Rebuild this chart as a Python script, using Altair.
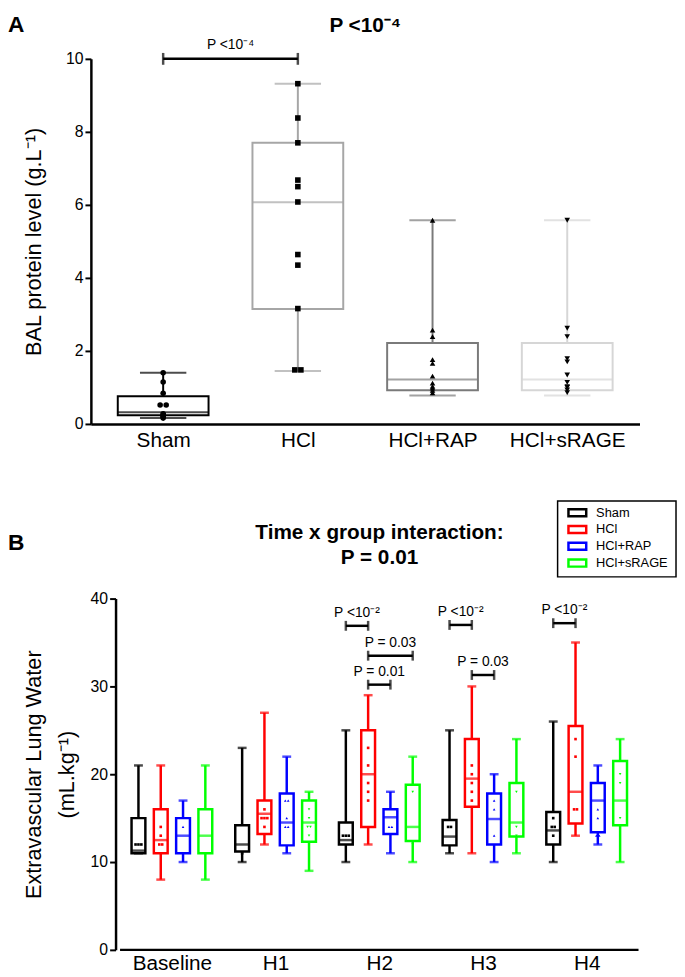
import altair as alt
import pandas as pd

FONT = "Liberation Sans"

# ---------------- Panel A data ----------------
a_groups = ["Sham", "HCl", "HCl+RAP", "HCl+sRAGE"]
a_min = [0.16, 1.45, 0.78, 0.78]
a_q1 = [0.24, 3.15, 0.92, 0.92]
a_med = [0.32, 6.07, 1.22, 1.22]
a_q3 = [0.76, 7.70, 2.22, 2.22]
a_max = [1.40, 9.32, 5.58, 5.58]
a_colors = ["#000000", "#a6a6a6", "#7a7a7a", "#d6d6d6"]
a_shapes = ["circle", "square", "triangle-up", "triangle-down"]
a_pts_sham = [1.40, 1.15, 0.84, 0.52, 0.52, 0.28, 0.25, 0.22, 0.20, 0.16]
a_pts_hcl = [9.32, 8.38, 7.70, 6.68, 6.50, 6.08, 4.64, 4.35, 3.16, 1.48, 1.48]
a_pts_rap = [5.58, 2.57, 2.39, 1.76, 1.66, 1.31, 1.12, 1.03, 0.98, 0.92, 0.85]
a_pts_srage = [5.58, 2.62, 2.39, 1.79, 1.70, 1.34, 1.14, 1.02, 1.00, 0.93, 0.86]
a_br_from = ["Sham"]
a_br_to = ["HCl"]
a_br_y = [10.0]
a_br_label = ["P <10⁻⁴"]
a_title = "P <10⁻⁴"
a_ytitle = "BAL protein level (g.L⁻¹)"

# ---------------- Panel B data ----------------
b_times = ["Baseline", "H1", "H2", "H3", "H4"]
b_series = ["Sham", "HCl", "HCl+RAP", "HCl+sRAGE"]
b_colors = ["#000000", "#ff0000", "#0000ff", "#00ff00"]
b_shapes = ["square", "square", "triangle-up", "triangle-down"]

b_min_sham = [11, 10, 10, 11, 10]
b_q1_sham = [11, 11.2, 12, 11.9, 12]
b_med_sham = [11.3, 12, 12.5, 12.9, 13.6]
b_q3_sham = [15, 14.2, 14.5, 14.8, 15.7]
b_max_sham = [21, 23, 25, 25, 26]

b_min_hcl = [8, 12, 12, 11, 13]
b_q1_hcl = [11, 13.2, 14, 16.3, 14.4]
b_med_hcl = [12.5, 15.5, 20, 19.5, 18]
b_q3_hcl = [16, 17, 25, 24, 25.5]
b_max_hcl = [21, 27, 29, 30, 35]

b_min_rap = [10, 11, 11, 10, 12]
b_q1_rap = [11, 11.9, 13.2, 12, 13.4]
b_med_rap = [13, 14.5, 15.1, 14.9, 17]
b_q3_rap = [15, 17.8, 16, 17.8, 19]
b_max_rap = [17, 22, 18, 20, 21]

b_min_srage = [8, 9, 10, 11, 10]
b_q1_srage = [11, 12.3, 12.4, 12.9, 14.2]
b_med_srage = [13, 14.5, 14, 14.5, 17]
b_q3_srage = [16, 17, 18.8, 19, 21.5]
b_max_srage = [21, 18, 22, 24, 24]

b_pts_sham = [[12, 12, 12], [11], [13, 13, 13], [14, 14], [15, 14, 14, 13]]
b_pts_hcl = [[14, 13, 12, 12], [16, 15, 15, 15, 14], [23, 21, 19, 18, 17], [21, 20, 19, 18, 17], [24, 22, 16, 16]]
b_pts_rap = [[14], [17, 17, 15, 14, 14], [14, 14], [17, 16, 13], [16, 15, 13, 13]]
b_pts_srage = [[], [16, 15, 14, 14, 13], [18, 12], [18, 14, 13], [20, 19, 15]]

b_br_time = ["H2", "H2", "H2", "H3", "H3", "H4"]
b_br_from = ["Sham", "HCl", "HCl", "Sham", "HCl", "Sham"]
b_br_to = ["HCl", "HCl+sRAGE", "HCl+RAP", "HCl", "HCl+RAP", "HCl"]
b_br_y = [36.9, 33.5, 30.2, 37.0, 31.3, 37.2]
b_br_label = ["P <10⁻²", "P = 0.03", "P = 0.01", "P <10⁻²", "P = 0.03", "P <10⁻²"]
b_title = ["Time x group interaction:", "P = 0.01"]
b_ytitle = ["Extravascular Lung Water", "(mL.kg⁻¹)"]

# ---------------- tables ----------------
a_box = pd.DataFrame({"group": a_groups, "idx": list(range(len(a_groups))),
                      "lo": a_min, "q1": a_q1, "med": a_med, "q3": a_q3, "hi": a_max})
a_pts_rows = []
for g, vals in zip(a_groups, [a_pts_sham, a_pts_hcl, a_pts_rap, a_pts_srage]):
    for v in vals:
        a_pts_rows.append({"group": g, "idx": a_groups.index(g), "val": v})
a_pts = pd.DataFrame(a_pts_rows)
a_br = pd.DataFrame({"x1": [a_groups.index(g) for g in a_br_from],
                     "x2": [a_groups.index(g) for g in a_br_to],
                     "yv": a_br_y, "label": a_br_label})

b_stats = {
    "Sham": (b_min_sham, b_q1_sham, b_med_sham, b_q3_sham, b_max_sham),
    "HCl": (b_min_hcl, b_q1_hcl, b_med_hcl, b_q3_hcl, b_max_hcl),
    "HCl+RAP": (b_min_rap, b_q1_rap, b_med_rap, b_q3_rap, b_max_rap),
    "HCl+sRAGE": (b_min_srage, b_q1_srage, b_med_srage, b_q3_srage, b_max_srage),
}
b_box_rows = []
for s in b_series:
    lo, q1, med, q3, hi = b_stats[s]
    for ti, t in enumerate(b_times):
        b_box_rows.append({"series": s, "si": b_series.index(s), "ti": ti,
                           "lo": lo[ti], "q1": q1[ti], "med": med[ti], "q3": q3[ti], "hi": hi[ti]})
b_box = pd.DataFrame(b_box_rows)
b_pts_rows = []
for s, per_t in zip(b_series, [b_pts_sham, b_pts_hcl, b_pts_rap, b_pts_srage]):
    for ti, vals in enumerate(per_t):
        for v in vals:
            b_pts_rows.append({"series": s, "si": b_series.index(s), "ti": ti, "val": v})
b_pts = pd.DataFrame(b_pts_rows)
b_br = pd.DataFrame({"ti": [b_times.index(t) for t in b_br_time],
                     "s1": [b_series.index(s) for s in b_br_from],
                     "s2": [b_series.index(s) for s in b_br_to],
                     "yv": b_br_y, "label": b_br_label})
b_leg = pd.DataFrame({"series": b_series, "row": list(range(len(b_series)))})

# ---------------- Panel A ----------------
A_W, A_H = 556, 370
a_xscale = alt.Scale(domain=[-0.5, 3.5], nice=False, zero=False)
a_yscale = alt.Scale(domain=[0, 10], nice=False)
a_label_expr = "[" + ",".join("'%s'" % g for g in a_groups) + "][datum.value]"
a_xaxis = alt.Axis(values=list(range(len(a_groups))), labelExpr=a_label_expr, title=None,
                   ticks=False, labelFontSize=21, labelPadding=6, domainWidth=2.5,
                   labelFont=FONT, labelColor="black", domainColor="black", grid=False)
a_yaxis = alt.Axis(values=[0, 2, 4, 6, 8, 10], title=a_ytitle, titleFontSize=22,
                   titleFontWeight="normal", titlePadding=20, tickSize=6, tickWidth=2,
                   domainWidth=2.5, labelFontSize=16, labelPadding=2, grid=False,
                   labelFont=FONT, titleFont=FONT, labelColor="black", titleColor="black",
                   domainColor="black", tickColor="black")


def ax(field):
    return alt.X(field, type="quantitative", scale=a_xscale, axis=a_xaxis)


def ay(field):
    return alt.Y(field, type="quantitative", scale=a_yscale, axis=a_yaxis)


a_stroke = alt.Stroke("group:N", scale=alt.Scale(domain=a_groups, range=a_colors), legend=None)
a_color = alt.Color("group:N", scale=alt.Scale(domain=a_groups, range=a_colors), legend=None)

a_base = alt.Chart(a_box)
a_whisk = a_base.mark_rule(strokeWidth=2).encode(x=ax("idx"), y=ay("lo"), y2="hi", stroke=a_stroke)
a_boxes = a_base.mark_bar(size=92, fill="white", strokeWidth=2, orient="vertical").encode(
    x=ax("idx"), y=ay("q1"), y2="q3", stroke=a_stroke)
a_medt = a_base.mark_tick(orient="horizontal", size=92, thickness=2).encode(
    x=ax("idx"), y=ay("med"), color=a_color)
a_cap_lo = a_base.mark_tick(orient="horizontal", size=47, thickness=2).encode(
    x=ax("idx"), y=ay("lo"), color=a_color)
a_cap_hi = a_base.mark_tick(orient="horizontal", size=47, thickness=2).encode(
    x=ax("idx"), y=ay("hi"), color=a_color)
a_points = alt.Chart(a_pts).transform_window(
    rank="row_number()", groupby=["idx", "val"]
).transform_joinaggregate(
    n="count()", groupby=["idx", "val"]
).transform_calculate(
    xj="datum.idx + (datum.rank - (datum.n + 1) / 2) * 0.045"
).mark_point(filled=True, size=32, color="black", opacity=1).encode(
    x=ax("xj"), y=ay("val"),
    shape=alt.Shape("group:N", scale=alt.Scale(domain=a_groups, range=a_shapes), legend=None))

a_brc = alt.Chart(a_br).transform_calculate(xm="(datum.x1 + datum.x2) / 2")
a_br_rule = a_brc.mark_rule(strokeWidth=2.5, color="black").encode(x=ax("x1"), x2="x2", y=ay("yv"))
a_br_t1 = a_brc.mark_tick(orient="vertical", size=12, thickness=2.5, color="black").encode(
    x=ax("x1"), y=ay("yv"))
a_br_t2 = a_brc.mark_tick(orient="vertical", size=12, thickness=2.5, color="black").encode(
    x=ax("x2"), y=ay("yv"))
a_br_txt = a_brc.mark_text(fontSize=14, font=FONT, dy=-10, baseline="alphabetic", color="black").encode(
    x=ax("xm"), y=ay("yv"), text="label:N")

a_annot = alt.Chart(pd.DataFrame({"t": [a_title]})).mark_text(
    fontSize=21, fontWeight="bold", font=FONT, baseline="top", color="black"
).encode(x=alt.value(A_W / 2), y=alt.value(-44), text="t:N")
a_letter = alt.Chart(pd.DataFrame({"t": ["A"]})).mark_text(
    fontSize=23, fontWeight="bold", font=FONT, align="left", baseline="top", color="black"
).encode(x=alt.value(-84), y=alt.value(-45), text="t:N")

chartA = alt.layer(a_whisk, a_boxes, a_medt, a_cap_lo, a_cap_hi, a_points,
                   a_br_rule, a_br_t1, a_br_t2, a_br_txt, a_annot, a_letter).properties(
    width=A_W, height=A_H)

# ---------------- Panel B ----------------
SHIFT = 25                      # panel B's axis sits 25 px right of panel A's
B_PLOT_W, B_H = 535, 356
B_W = B_PLOT_W + SHIFT
STEP = 0.215
b_xmin = -5.0 * SHIFT / B_PLOT_W
b_xscale = alt.Scale(domain=[b_xmin, 5], nice=False, zero=False)
b_yscale = alt.Scale(domain=[0, 40], nice=False)
b_label_expr = "[" + ",".join("'%s'" % t for t in b_times) + "][floor(datum.value)]"
b_xaxis = alt.Axis(values=[i + 0.5 for i in range(len(b_times))], labelExpr=b_label_expr, title=None,
                   ticks=False, labelFontSize=21, labelPadding=3, domain=False,
                   labelFont=FONT, labelColor="black", grid=False)
b_yaxis = alt.Axis(values=[0, 10, 20, 30, 40], title=b_ytitle, titleFontSize=22,
                   titleFontWeight="normal", titlePadding=12, titleLineHeight=33,
                   tickSize=6, tickWidth=2, offset=-SHIFT,
                   domainWidth=2.5, labelFontSize=16, labelPadding=2, grid=False,
                   labelFont=FONT, titleFont=FONT, labelColor="black", titleColor="black",
                   domainColor="black", tickColor="black")


def bx(field):
    return alt.X(field, type="quantitative", scale=b_xscale, axis=b_xaxis)


def by(field):
    return alt.Y(field, type="quantitative", scale=b_yscale, axis=b_yaxis)


b_sc = alt.Scale(domain=b_series, range=b_colors)
b_stroke = alt.Stroke("series:N", scale=b_sc, legend=None)
b_color = alt.Color("series:N", scale=b_sc, legend=None)

b_base = alt.Chart(b_box).transform_calculate(
    xp="datum.ti + 0.5 + (datum.si - 1.5) * %f" % STEP)
b_whisk = b_base.mark_rule(strokeWidth=2.5).encode(x=bx("xp"), y=by("lo"), y2="hi", stroke=b_stroke)
b_boxes = b_base.mark_bar(size=14, fill="white", strokeWidth=2.5, orient="vertical").encode(
    x=bx("xp"), y=by("q1"), y2="q3", stroke=b_stroke)
b_medt = b_base.mark_tick(orient="horizontal", size=14, thickness=2.5).encode(
    x=bx("xp"), y=by("med"), color=b_color)
b_cap_lo = b_base.mark_tick(orient="horizontal", size=9, thickness=2.5).encode(
    x=bx("xp"), y=by("lo"), color=b_color)
b_cap_hi = b_base.mark_tick(orient="horizontal", size=9, thickness=2.5).encode(
    x=bx("xp"), y=by("hi"), color=b_color)
b_points = alt.Chart(b_pts).transform_window(
    rank="row_number()", groupby=["ti", "si", "val"]
).transform_joinaggregate(
    n="count()", groupby=["ti", "si", "val"]
).transform_calculate(
    xp="datum.ti + 0.5 + (datum.si - 1.5) * %f + (datum.rank - (datum.n + 1) / 2) * 0.028" % STEP
).mark_point(filled=True, size=7, opacity=1).encode(
    x=bx("xp"), y=by("val"), color=b_color,
    shape=alt.Shape("series:N", scale=alt.Scale(domain=b_series, range=b_shapes), legend=None))

# x-axis baseline from the first to the last time slot
b_xline = alt.Chart(pd.DataFrame({"x1": [0.0], "x2": [float(len(b_times))], "y0": [0.0]})).mark_rule(
    strokeWidth=2.5, color="black").encode(x=bx("x1"), x2="x2", y=by("y0"))

b_brc = alt.Chart(b_br).transform_calculate(
    x1="datum.ti + 0.5 + (datum.s1 - 1.5) * %f" % STEP,
    x2="datum.ti + 0.5 + (datum.s2 - 1.5) * %f" % STEP,
).transform_calculate(xm="(datum.x1 + datum.x2) / 2")
b_br_rule = b_brc.mark_rule(strokeWidth=2.5, color="black").encode(x=bx("x1"), x2="x2", y=by("yv"))
b_br_t1 = b_brc.mark_tick(orient="vertical", size=10, thickness=2.5, color="black").encode(
    x=bx("x1"), y=by("yv"))
b_br_t2 = b_brc.mark_tick(orient="vertical", size=10, thickness=2.5, color="black").encode(
    x=bx("x2"), y=by("yv"))
b_br_txt = b_brc.mark_text(fontSize=14, font=FONT, dy=-9, baseline="alphabetic", color="black").encode(
    x=bx("xm"), y=by("yv"), text="label:N")

# legend (frame, outlined swatches, labels), placed in pixels above the plot's top-right
LEG_X, LEG_Y, LEG_W, LEG_H, LEG_ROW = 473, -99, 120, 77, 17
b_leg_frame = alt.Chart(pd.DataFrame({"k": [0]})).mark_rect(
    fill="white", stroke="black", strokeWidth=1.5
).encode(x=alt.value(LEG_X), x2=alt.value(LEG_X + LEG_W), y=alt.value(LEG_Y), y2=alt.value(LEG_Y + LEG_H))
b_leg_base = alt.Chart(b_leg).transform_calculate(
    py="%d + 12 + datum.row * %d" % (LEG_Y, LEG_ROW),
    px="%d + 20" % LEG_X,
    tx="%d + 39" % LEG_X,
)
b_leg_sym = b_leg_base.mark_point(
    shape="M-1,-0.4H1V0.4H-1Z", size=324, filled=False, strokeWidth=2.5, opacity=1
).encode(x=alt.X("px:Q", scale=None, axis=None), y=alt.Y("py:Q", scale=None, axis=None), stroke=b_stroke)
b_leg_txt = b_leg_base.mark_text(
    fontSize=13, font=FONT, align="left", baseline="middle", color="black"
).encode(x=alt.X("tx:Q", scale=None, axis=None), y=alt.Y("py:Q", scale=None, axis=None), text="series:N")

b_annot = alt.Chart(pd.DataFrame({"k": [0]})).mark_text(
    fontSize=21, fontWeight="bold", font=FONT, baseline="alphabetic", color="black",
    lineHeight=25, text=b_title
).encode(x=alt.value(SHIFT + B_PLOT_W / 2), y=alt.value(-60))
b_letter = alt.Chart(pd.DataFrame({"t": ["B"]})).mark_text(
    fontSize=23, fontWeight="bold", font=FONT, align="left", baseline="alphabetic", color="black"
).encode(x=alt.value(-84), y=alt.value(-49), text="t:N")

chartB = alt.layer(b_xline, b_whisk, b_boxes, b_medt, b_cap_lo, b_cap_hi, b_points,
                   b_br_rule, b_br_t1, b_br_t2, b_br_txt, b_annot, b_letter,
                   b_leg_frame, b_leg_sym, b_leg_txt).properties(
    width=B_W, height=B_H)

chart = alt.vconcat(chartA, chartB, spacing=50).resolve_scale(
    color="independent", stroke="independent", shape="independent",
    x="independent", y="independent"
).resolve_legend(color="independent", stroke="independent", shape="independent").properties(
    padding=0
).configure(font=FONT).configure_view(stroke=None)

chart.save("out.html", embed_options={"renderer": "svg", "actions": False})
